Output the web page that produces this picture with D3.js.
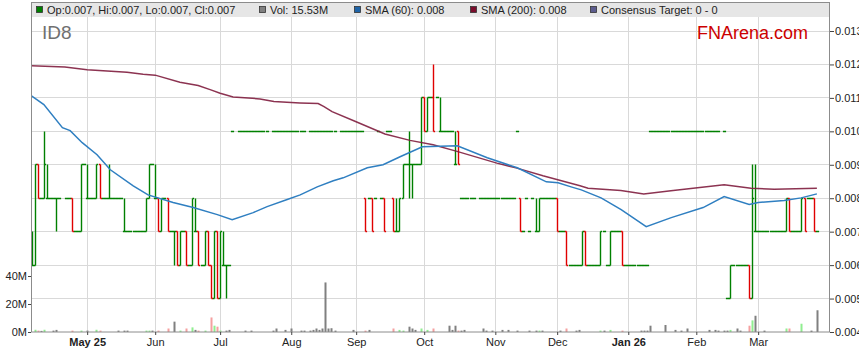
<!DOCTYPE html>
<html>
<head>
<meta charset="utf-8">
<script src="https://cdn.jsdelivr.net/npm/d3@7"></script>
<style>
body { margin: 0; background: #fff; }
text { font-family: Arial, "Liberation Sans", sans-serif; }
</style>
</head>
<body>
<svg id="chart" width="859" height="363"></svg>
<script>
// ID8 daily bars, one entry per weekday from firstDay to lastDay
// prices are in thousandths of a dollar: [open, high, low, close], null = no bar
var firstDay = "2025-04-07", lastDay = "2026-03-27";
var priceUnit = 0.001;

var ohlc = [
  [6,7,6,6],[6,9,6,9],[9,9,8,8],[8,8,8,8],[8,10,8,9],[8,9,8,8],[8,8,8,8],[8,8,8,8],[8,8,7,8],[8,8,8,8],
  null,[8,8,8,8],[8,8,8,8],[8,8,7,7],[7,7,7,7],[7,7,7,7],[7,9,7,9],[9,9,9,9],[8,9,8,8],[8,8,8,8],
  [8,8,8,8],[8,9,8,9],[9,9,8,8],[8,8,8,8],[8,8,8,8],[8,9,8,8],[8,8,8,8],[8,8,8,8],[8,8,8,8],[8,8,8,8],
  [7,8,7,7],[7,7,7,7],[7,7,7,7],[7,7,7,7],[7,7,7,7],[7,7,7,7],[7,7,7,7],[7,8,7,8],[8,9,8,9],[9,9,9,9],
  [8,9,8,8],[8,8,7,7],[7,8,7,8],[8,8,8,8],[8,8,7,7],[7,7,7,7],[7,7,6,7],[7,7,6,6],[6,7,6,7],[7,7,7,7],
  [7,7,6,6],[6,6,6,6],[6,8,6,8],[7,8,7,7],[7,7,6,6],[6,6,6,6],[6,7,6,7],[7,7,6,6],[6,6,5,5],[5,7,5,7],
  [7,7,5,5],[5,7,5,7],[6,7,6,6],[6,6,5,6],[6,6,6,6],[10,10,10,10],null,[10,10,10,10],[10,10,10,10],[10,10,10,10],
  [10,10,10,10],[10,10,10,10],[10,10,10,10],[10,10,10,10],[10,10,10,10],[10,10,10,10],[10,10,10,10],null,[10,10,10,10],[10,10,10,10],
  [10,10,10,10],[10,10,10,10],[10,10,10,10],[10,10,10,10],[10,10,10,10],[10,10,10,10],[10,10,10,10],[10,10,10,10],[10,10,10,10],null,
  [10,10,10,10],[10,10,10,10],[10,10,10,10],[10,10,10,10],[10,10,10,10],[10,10,10,10],[10,10,10,10],[10,10,10,10],[10,10,10,10],null,
  [10,10,10,10],[10,10,10,10],[10,10,10,10],[10,10,10,10],[10,10,10,10],[10,10,10,10],[10,10,10,10],[10,10,10,10],[8,8,7,7],[8,8,8,8],
  [8,8,7,7],[8,8,8,8],[10,10,10,10],[8,8,8,8],[8,8,7,7],[10,10,10,10],[10,10,10,10],[8,8,7,7],[7,8,7,7],[7,8,7,8],
  [8,9,8,9],[9,9,9,9],[9,10,8,9],[9,9,8,9],[9,9,9,9],[9,9,9,9],[9,11,9,11],[11,11,10,10],[10,11,10,11],[11,11,11,11],
  [11,12,10,10],[11,11,11,11],[10,11,10,10],[10,10,10,10],[10,10,10,10],[10,10,10,10],[10,10,10,10],[9,10,9,9],[10,10,9,9],[8,8,8,8],
  [8,8,8,8],[8,8,8,8],[8,8,8,8],[8,8,8,8],null,[8,8,8,8],[8,8,8,8],[8,8,8,8],[8,8,8,8],[8,8,8,8],
  [8,8,8,8],[8,8,8,8],[8,8,8,8],[8,8,8,8],[8,8,8,8],[8,8,8,8],[8,8,8,8],[10,10,10,10],[8,8,7,7],[7,7,7,7],
  [8,8,8,8],[7,7,7,7],[8,8,8,8],[7,8,7,7],[7,8,7,8],[8,8,8,8],[8,8,8,8],[8,8,8,8],[8,8,8,8],[8,8,8,8],
  [8,8,7,7],[7,7,7,7],[7,7,7,7],[7,7,6,6],[6,6,6,6],[6,6,6,6],[6,6,6,6],[6,6,6,6],[6,7,6,7],[7,7,6,6],
  [6,6,6,6],[6,6,6,6],[6,6,6,6],[6,6,6,6],[6,7,6,7],[7,7,7,7],[6,6,6,6],[6,7,6,7],[7,7,7,7],[7,7,7,7],
  [7,7,7,7],[7,7,6,6],[6,6,6,6],[6,6,6,6],[6,6,6,6],[6,6,6,6],[6,6,6,6],[6,6,6,6],[6,6,6,6],[6,6,6,6],
  [10,10,10,10],[10,10,10,10],[10,10,10,10],[10,10,10,10],[10,10,10,10],[10,10,10,10],[10,10,10,10],[10,10,10,10],[10,10,10,10],[10,10,10,10],
  [10,10,10,10],[10,10,10,10],[10,10,10,10],[10,10,10,10],[10,10,10,10],[10,10,10,10],[10,10,10,10],[10,10,10,10],[10,10,10,10],[10,10,10,10],
  [10,10,10,10],[10,10,10,10],[10,10,10,10],null,[10,10,10,10],[5,5,5,5],[5,6,5,6],[6,6,6,6],[6,6,6,6],[6,6,6,6],
  [6,6,6,6],[6,6,6,6],[6,6,5,5],[5,9,5,8],[7,9,7,7],[7,7,7,7],[7,7,7,7],[7,7,7,7],[7,7,7,7],[7,7,7,7],
  [7,7,7,7],[7,7,7,7],[7,7,7,7],[7,7,7,7],[7,8,7,8],[8,8,7,7],[7,7,7,7],[7,7,7,7],[7,7,7,7],[7,8,7,8],
  [8,8,7,7],[8,8,8,8],[8,8,8,8],[8,8,7,7],[7,7,7,7]
];

// daily volume, millions of shares
var volume = [
  0,1.6,1.0,0.8,1.6,0,0,1.0,1.5,0,
  0,0,0,1.0,0,0,1.0,0,1.0,0,
  0,1.6,1.0,0,0,0,0,0,1.0,0,
  1.0,1.0,0,0,0,0,0,1.0,1.0,1.0,
  0,1.0,0,0,2.5,0,7.4,0,1.0,0,
  2.5,0,3.3,1.5,1.0,0,1.0,0,10.4,4.5,
  3.8,1.0,0,1.0,1.5,0,0,0,0,1.0,
  0,1.0,0,0,0,0,0,0,1.0,2.5,
  0,0,1.5,0,2.5,0,0,1.0,1.0,0,
  1.0,1.5,2.5,1.5,2.5,35.4,2.5,2.7,1.0,0,
  0,0,0,0,1.5,0,0,0,1.0,1.5,
  0,0,0,0,0,0,0,2.5,0,1.5,
  1.0,0,3.8,2.5,1.5,0,2.5,0,1.5,0,
  2.5,0,0,0,0,4.5,1.5,4.5,1.0,1.0,
  1.5,0,0,0,0,0,2.5,1.0,0,1.0,
  0,0,1.5,0,1.5,0,0,1.0,0,0,
  0,1.0,0,1.0,1.0,1.0,0,0,0,0,
  0,1.0,0,2.5,0,0,1.0,1.5,0,0,
  0,0,0,0,1.0,1.0,0,1.5,0,0,
  0,1.0,0,0,0,0,0,1.0,1.0,1.0,
  4.5,0,0,0,0,5.0,0,0,1.5,0,
  1.0,0,2.5,0,0,0,0,0,0,1.5,
  0,1.5,1.0,0,1.0,1.0,1.5,0,2.5,1.0,
  0,0,4.5,8.3,11.6,0,0,1.0,0,0,
  0,0,0,0,2.5,2.5,0,0,0,5.9,
  0,0,1.0,0,15.53
];

// moving averages: [day index, price]
var sma60 = [
  [0,0.01106],[4,0.01080],[10,0.01011],[12.5,0.01002],[16.4,0.00966],[21.2,0.00930],[25.5,0.00885],
  [32.9,0.00837],[37.7,0.00810],[45.8,0.00787],[52.3,0.00772],[60.1,0.00751],[64.9,0.00736],
  [71.7,0.00757],[76.2,0.00775],[82.7,0.00796],[86.9,0.00810],[92.4,0.00834],[97.6,0.00852],
  [100.8,0.00861],[108.6,0.00891],[113.7,0.00900],[119.2,0.00924],[126.4,0.00954],[137.7,0.00957],
  [147.4,0.00921],[157.1,0.00891],[166.5,0.00849],[170.3,0.00846],[174.5,0.00834],[177.8,0.00825],
  [184.2,0.00801],[190.7,0.00766],[198.8,0.00715],[206.9,0.00742],[217.2,0.00772],[224,0.00805],
  [232.1,0.00781],[235,0.00787],[243.4,0.00793],[248.9,0.00801],[254,0.00813]
];
var sma200 = [
  [0,0.01196],[10.8,0.01192],[18,0.01184],[30.9,0.01177],[36.1,0.01171],[40,0.01168],[48,0.01147],
  [53.9,0.01137],[58,0.01124],[61,0.01114],[65.2,0.01103],[73.9,0.01097],[78.4,0.01089],[86.8,0.01085],
  [92.7,0.01083],[94.6,0.01074],[97.2,0.01059],[104.6,0.01030],[114.3,0.00992],[122.4,0.00973],
  [129.9,0.00960],[137.6,0.00940],[150.5,0.00905],[157,0.00890],[165.4,0.00867],[177.4,0.00837],
  [180,0.00830],[190.6,0.00823],[198,0.00813],[206.8,0.00822],[224,0.00840],[232.7,0.00830],
  [240.2,0.00827],[254,0.00830]
];

var monthTicks = ["2025-05-01","2025-06-02","2025-07-01","2025-08-01","2025-09-01","2025-10-01",
                  "2025-11-03","2025-12-01","2026-01-01","2026-02-02","2026-03-02"];
var monthLabels = ["May 25","Jun","Jul","Aug","Sep","Oct","Nov","Dec","Jan 26","Feb","Mar"];
var priceTicks = [0.004,0.005,0.006,0.007,0.008,0.009,0.010,0.011,0.012,0.013];
var volTicks = [0, 20, 40];
var consensus = "0 - 0";

var upColor = "#008000", downColor = "#e00000";
var volColor = {up: "#90ee90", down: "#f5a0a0", flat: "#808080"};

var plot = {left: 31, right: 830, top: 17, bottom: 332};
var svg = d3.select("#chart");

var parse = d3.timeParse("%Y-%m-%d"), fmtDay = d3.timeFormat("%Y-%m-%d");
var days = d3.timeDay.range(parse(firstDay), d3.timeDay.offset(parse(lastDay), 1))
    .filter(d => d.getDay() != 0 && d.getDay() != 6);
var dayKeys = days.map(fmtDay);

var bars = [];
ohlc.forEach(function(d, i) {
    if (!d) return;
    bars.push({i: i, o: d[0]*priceUnit, h: d[1]*priceUnit, l: d[2]*priceUnit, c: d[3]*priceUnit, v: volume[i]});
});

var x = d3.scaleLinear().domain([0, 258.4]).range([31.5, 830.5]);
var y = d3.scaleLinear().domain([0.004, 0.013]).range([332, 31]);
var yVol = d3.scaleLinear().domain([0, 40]).range([332, 276]);
var crisp = v => Math.floor(v) + 0.5;

// legend strip
svg.append("rect").attr("x", plot.left).attr("y", 3).attr("width", plot.right - plot.left).attr("height", 14)
    .attr("fill", "#e6e6e6");

// grid
var grid = svg.append("g").attr("stroke", "#d9d9d9").attr("stroke-width", 1);
grid.selectAll(".hg").data(priceTicks.slice(1)).enter().append("line")
    .attr("x1", plot.left).attr("x2", plot.right)
    .attr("y1", d => crisp(y(d))).attr("y2", d => crisp(y(d)));
var monthIdx = monthTicks.map(t => dayKeys.indexOf(t));
grid.selectAll(".vg").data(monthIdx).enter().append("line")
    .attr("y1", plot.top).attr("y2", plot.bottom)
    .attr("x1", d => crisp(x(d))).attr("x2", d => crisp(x(d)));

svg.append("clipPath").attr("id", "clip").append("rect")
    .attr("x", plot.left).attr("y", plot.top).attr("width", plot.right - plot.left).attr("height", plot.bottom - plot.top);
var area = svg.append("g").attr("clip-path", "url(#clip)");

// volume
area.append("g").selectAll("rect").data(bars.filter(d => d.v > 0)).enter().append("rect")
    .attr("x", d => Math.round(x(d.i)) - 0.5)
    .attr("width", 2)
    .attr("y", d => yVol(d.v))
    .attr("height", d => yVol(0) - yVol(d.v))
    .attr("fill", d => d.c > d.o ? volColor.up : (d.c < d.o ? volColor.down : volColor.flat));

// price bars
var tw = 1.6;
area.append("g").selectAll("path").data(bars).enter().append("path")
    .attr("fill", "none")
    .attr("stroke-width", 1.4)
    .attr("stroke", d => d.c < d.o ? downColor : upColor)
    .attr("d", function(d) {
        var cx = Math.round(x(d.i)) + 0.5;
        var yo = crisp(y(d.o)), yc = crisp(y(d.c));
        var p = "M" + (cx - tw) + "," + yo + "H" + cx + "M" + cx + "," + yc + "H" + (cx + tw);
        if (d.h > d.l) p += "M" + cx + "," + crisp(y(d.h)) + "V" + crisp(y(d.l));
        return p;
    });

// moving averages
var smaLine = d3.line().x(d => x(d[0])).y(d => y(d[1]));
area.append("path").datum(sma200).attr("d", smaLine)
    .attr("fill", "none").attr("stroke", "#7f1d3e").attr("stroke-width", 1.5).attr("stroke-opacity", 0.9);
area.append("path").datum(sma60).attr("d", smaLine)
    .attr("fill", "none").attr("stroke", "#2f7fc1").attr("stroke-width", 1.5);

// frame
svg.append("rect").attr("x", plot.left + 0.5).attr("y", 2.5)
    .attr("width", plot.right - plot.left - 1).attr("height", plot.bottom - 2.5)
    .attr("fill", "none").attr("stroke", "#8c8c8c");

// axes
var rightAxis = d3.axisRight(y).tickValues(priceTicks).tickFormat(d3.format(".3f"))
    .tickSize(4).tickPadding(1).tickSizeOuter(0);
var leftAxis = d3.axisLeft(yVol).tickValues(volTicks).tickFormat(d => d + "M")
    .tickSize(3).tickPadding(1).tickSizeOuter(0);
var bottomAxis = d3.axisBottom(x).tickValues(monthIdx).tickFormat((d, i) => monthLabels[i])
    .tickSize(3).tickPadding(3).tickSizeOuter(0);

function styleAxis(g) {
    g.select(".domain").remove();
    g.selectAll("line").attr("stroke", "#444");
    g.selectAll("text").attr("fill", "#222").style("font-size", "11px")
        .style("font-family", "Arial, 'Liberation Sans', sans-serif");
}
svg.append("g").attr("transform", "translate(" + plot.right + ",0)").call(rightAxis).call(styleAxis);
svg.append("g").attr("transform", "translate(" + plot.left + ",0)").call(leftAxis).call(styleAxis);
svg.append("g").attr("transform", "translate(0," + plot.bottom + ")").call(bottomAxis).call(styleAxis)
    .selectAll("text").style("font-weight", (d, i) => /\d/.test(monthLabels[i]) ? "bold" : "normal");

// legend
var last = bars[bars.length - 1];
var f3 = d3.format(".3f");
var legendItems = [
    {x: 36,  color: upColor,   text: "Op:" + f3(last.o) + ", Hi:" + f3(last.h) + ", Lo:" + f3(last.l) + ", Cl:" + f3(last.c)},
    {x: 259, color: "#808080", text: "Vol: " + d3.format(".2f")(last.v) + "M"},
    {x: 354, color: "#1f64a8", text: "SMA (60): " + f3(sma60[sma60.length - 1][1])},
    {x: 470, color: "#7a0d2c", text: "SMA (200): " + f3(sma200[sma200.length - 1][1])},
    {x: 590, color: "#5c5c8e", text: "Consensus Target: " + consensus}
];
var lg = svg.append("g").selectAll("g").data(legendItems).enter().append("g");
lg.append("rect").attr("x", d => d.x + 0.5).attr("y", 6.5).attr("width", 6).attr("height", 6)
    .attr("fill", d => d.color).attr("stroke", "#333").attr("stroke-width", 0.8);
lg.append("text").attr("x", d => d.x + 11).attr("y", 13.5).attr("font-size", "11px").attr("fill", "#222")
    .text(d => d.text);

// titles
svg.append("text").attr("x", 42).attr("y", 39).attr("font-size", "19px").attr("fill", "#707070").text("ID8");
svg.append("text").attr("x", 697).attr("y", 39).attr("font-size", "18px").attr("fill", "#cc0000").text("FNArena.com");
</script>
</body>
</html>
